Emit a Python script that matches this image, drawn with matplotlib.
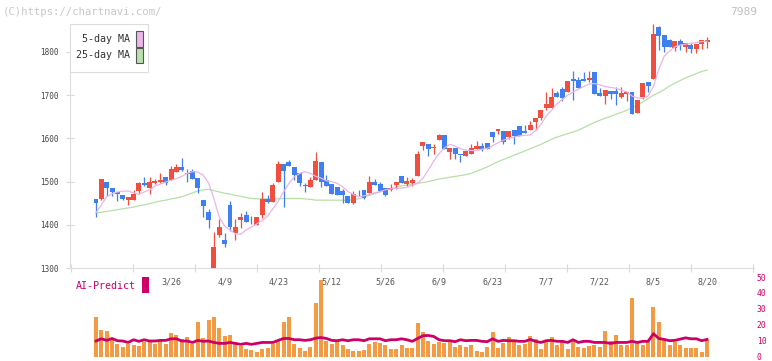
import numpy as np
import matplotlib.pyplot as plt
from matplotlib.patches import Rectangle

plt.rcParams['font.family'] = ['DejaVu Sans Mono']

# daily OHLC (115 trading days, last one = 8/20)
opens = [1460, 1459, 1499, 1485, 1476, 1469, 1458, 1458, 1479, 1497,
         1486, 1497, 1498, 1511, 1504, 1522, 1534, 1518, 1525, 1508,
         1457, 1430, 1290, 1377, 1365, 1446, 1382, 1412, 1423, 1411,
         1400, 1423, 1460, 1453, 1499, 1541, 1545, 1534, 1520, 1490,
         1488, 1504, 1545, 1504, 1494, 1488, 1478, 1467, 1451, 1477,
         1481, 1474, 1499, 1494, 1485, 1481, 1492, 1513, 1494, 1497,
         1514, 1582, 1587, 1577, 1596, 1608, 1569, 1578, 1562, 1559,
         1564, 1576, 1582, 1589, 1615, 1617, 1617, 1603, 1619, 1629,
         1617, 1619, 1638, 1647, 1670, 1670, 1705, 1714, 1707, 1738,
         1735, 1738, 1735, 1754, 1705, 1698, 1710, 1710, 1696, 1703,
         1707, 1659, 1696, 1731, 1738, 1858, 1839, 1828, 1809, 1826,
         1812, 1816, 1807, 1819, 1823]
highs = [1460, 1506, 1499, 1485, 1476, 1469, 1464, 1481, 1500, 1511,
         1511, 1506, 1521, 1511, 1535, 1541, 1555, 1529, 1529, 1508,
         1457, 1437, 1383, 1413, 1381, 1455, 1413, 1427, 1432, 1420,
         1418, 1476, 1469, 1496, 1547, 1541, 1550, 1534, 1520, 1497,
         1511, 1569, 1545, 1515, 1494, 1488, 1483, 1467, 1478, 1481,
         1481, 1513, 1506, 1499, 1485, 1494, 1499, 1513, 1511, 1508,
         1571, 1592, 1587, 1587, 1610, 1608, 1578, 1578, 1562, 1571,
         1587, 1594, 1589, 1589, 1615, 1622, 1617, 1617, 1619, 1629,
         1631, 1640, 1647, 1666, 1708, 1717, 1710, 1719, 1733, 1756,
         1742, 1754, 1756, 1754, 1717, 1712, 1710, 1719, 1719, 1707,
         1707, 1689, 1728, 1731, 1865, 1860, 1839, 1830, 1826, 1830,
         1821, 1821, 1819, 1828, 1835]
lows = [1419, 1458, 1467, 1467, 1455, 1457, 1446, 1458, 1471, 1490,
        1471, 1495, 1497, 1493, 1504, 1522, 1525, 1499, 1507, 1474,
        1419, 1393, 1285, 1372, 1349, 1386, 1365, 1393, 1407, 1402,
        1400, 1416, 1450, 1453, 1499, 1442, 1537, 1504, 1490, 1477,
        1488, 1504, 1488, 1490, 1471, 1469, 1450, 1451, 1448, 1467,
        1460, 1474, 1492, 1478, 1467, 1478, 1483, 1497, 1490, 1490,
        1514, 1572, 1559, 1564, 1596, 1576, 1552, 1552, 1545, 1559,
        1564, 1576, 1571, 1576, 1592, 1610, 1587, 1599, 1587, 1606,
        1613, 1619, 1619, 1643, 1666, 1670, 1696, 1687, 1707, 1689,
        1717, 1733, 1731, 1703, 1698, 1680, 1691, 1677, 1694, 1687,
        1657, 1659, 1691, 1707, 1738, 1805, 1800, 1812, 1802, 1805,
        1800, 1798, 1798, 1807, 1809]
closes = [1451, 1506, 1486, 1477, 1472, 1460, 1464, 1471, 1497, 1491,
          1499, 1501, 1504, 1497, 1529, 1534, 1527, 1517, 1507, 1486,
          1444, 1410, 1349, 1395, 1356, 1396, 1394, 1418, 1407, 1410,
          1418, 1460, 1453, 1492, 1541, 1525, 1537, 1515, 1497, 1489,
          1504, 1548, 1499, 1490, 1471, 1469, 1469, 1451, 1471, 1475,
          1462, 1499, 1492, 1478, 1469, 1485, 1499, 1497, 1501, 1504,
          1564, 1592, 1576, 1581, 1608, 1576, 1578, 1564, 1561, 1571,
          1578, 1582, 1576, 1576, 1603, 1622, 1592, 1617, 1606, 1606,
          1613, 1631, 1647, 1666, 1680, 1696, 1696, 1694, 1733, 1733,
          1717, 1733, 1740, 1703, 1698, 1712, 1703, 1703, 1705, 1707,
          1657, 1689, 1728, 1721, 1842, 1837, 1812, 1812, 1826, 1816,
          1821, 1807, 1819, 1828, 1828]

ma5 = [1428, 1446, 1465, 1472, 1476, 1478, 1478, 1474, 1471, 1476,
       1481, 1490, 1494, 1499, 1503, 1507, 1512, 1519, 1523, 1522,
       1515, 1497, 1460, 1418, 1397, 1388, 1379, 1378, 1388, 1395,
       1402, 1410, 1420, 1437, 1455, 1476, 1496, 1511, 1519, 1523,
       1519, 1512, 1508, 1502, 1500, 1496, 1488, 1477, 1470, 1465,
       1467, 1470, 1474, 1477, 1481, 1483, 1484, 1485, 1487, 1492,
       1496, 1508, 1527, 1547, 1565, 1578, 1586, 1582, 1576, 1573,
       1572, 1572, 1575, 1577, 1583, 1590, 1596, 1600, 1603, 1606,
       1607, 1608, 1618, 1632, 1652, 1665, 1680, 1690, 1700, 1707,
       1714, 1720, 1726, 1727, 1724, 1720, 1718, 1716, 1712, 1708,
       1698, 1694, 1693, 1698, 1720, 1760, 1790, 1802, 1812, 1816,
       1818, 1820, 1822, 1824, 1825]
ma25 = [1428, 1429, 1431, 1433, 1435, 1437, 1439, 1441, 1444, 1446,
        1449, 1452, 1455, 1457, 1460, 1462, 1465, 1469, 1474, 1478,
        1481, 1482, 1479, 1476, 1473, 1471, 1468, 1466, 1463, 1461,
        1460, 1460, 1460, 1460, 1460, 1461, 1461, 1461, 1461, 1460,
        1459, 1457, 1457, 1457, 1457, 1457, 1457, 1457, 1458, 1460,
        1464, 1468, 1472, 1476, 1480, 1484, 1487, 1490, 1492, 1494,
        1496, 1498, 1500, 1503, 1506, 1508, 1510, 1512, 1514, 1516,
        1519, 1524, 1529, 1534, 1540, 1546, 1551, 1556, 1561, 1566,
        1571, 1576, 1581, 1586, 1592, 1598, 1603, 1607, 1611, 1615,
        1619, 1625, 1631, 1637, 1642, 1647, 1651, 1656, 1660, 1665,
        1671, 1677, 1684, 1692, 1700, 1706, 1713, 1721, 1728, 1734,
        1740, 1745, 1750, 1755, 1758]

volume = [24.8, 17.0, 15.8, 11.4, 7.7, 5.8, 7.7, 7.1, 6.4, 8.9,
          9.6, 7.7, 9.6, 7.7, 14.6, 13.3, 10.8, 12.1, 7.7, 22.0,
          11.4, 23.3, 25.2, 18.3, 12.7, 13.3, 8.9, 6.4, 4.6, 3.9,
          2.7, 4.6, 5.2, 7.7, 10.2, 22.0, 25.2, 7.7, 5.2, 3.3,
          5.8, 33.9, 48.3, 9.6, 7.7, 8.9, 7.1, 4.6, 3.3, 3.3,
          3.9, 7.7, 8.9, 8.3, 7.1, 4.6, 4.6, 7.1, 5.2, 5.2,
          21.4, 15.2, 9.6, 7.7, 8.9, 8.3, 9.6, 5.8, 7.1, 5.8,
          7.1, 3.3, 2.7, 5.8, 15.2, 5.2, 8.3, 12.1, 9.6, 7.1,
          7.7, 12.7, 10.8, 4.6, 8.9, 12.1, 7.1, 8.9, 4.6, 10.4,
          5.8, 5.2, 6.4, 7.1, 5.8, 16.4, 9.6, 13.3, 7.1, 7.1,
          37.0, 9.6, 7.1, 10.2, 31.4, 21.6, 10.2, 7.1, 8.9, 7.1,
          5.2, 5.2, 5.2, 2.7, 10.2]
ai_predict = [9.8, 11.2, 10.2, 11.4, 10.0, 9.8, 8.9, 10.6, 9.6, 10.6,
              9.8, 9.8, 10.2, 10.2, 11.2, 11.2, 9.8, 9.8, 8.9, 10.2,
              9.6, 9.8, 8.9, 8.3, 8.3, 8.9, 8.3, 7.7, 8.3, 7.7,
              8.3, 8.9, 8.9, 8.9, 10.2, 11.4, 11.4, 10.6, 10.6, 10.2,
              10.6, 11.6, 12.0, 11.4, 10.2, 10.0, 10.6, 10.0, 10.6, 10.6,
              10.0, 11.2, 11.2, 11.2, 10.0, 10.6, 10.6, 11.2, 10.6, 9.6,
              11.4, 13.1, 13.3, 12.7, 10.6, 10.0, 10.0, 9.4, 10.6, 10.0,
              10.2, 10.2, 9.6, 9.4, 11.2, 9.6, 10.2, 10.0, 10.0, 9.6,
              9.6, 10.8, 9.6, 8.9, 10.0, 10.2, 9.6, 9.6, 8.9, 10.6,
              8.9, 9.6, 9.6, 8.9, 8.9, 8.9, 8.3, 8.9, 8.9, 8.9,
              9.6, 8.9, 9.6, 9.6, 14.4, 11.4, 10.8, 10.0, 10.2, 11.0,
              11.8, 11.2, 11.2, 10.0, 10.8]

date_labels = ['3/26', '4/9', '4/23', '5/12', '5/26', '6/9', '6/23', '7/7', '7/22', '8/5', '8/20']
date_index = [14, 24, 34, 44, 54, 64, 74, 84, 94, 104, 114]

UP = '#f04e3e'
DOWN = '#3f7ff0'
CRIMSON = '#cc0066'
W, H = 772, 361

def fx(px):
    return px / W

def fy(py):
    return 1 - py / H

fig = plt.figure(figsize=(W / 100, H / 100), dpi=100)

# pixel geometry: candle i sits at x = 96 + 5.36 * i
x0, x1 = 70, 754
xlim = ((x0 - 96) / 5.36, (x1 - 96) / 5.36)

ax = fig.add_axes([fx(x0), fy(268), fx(x1) - fx(x0), (268 - 24) / H])
ax2 = fig.add_axes([fx(x0), fy(356.6), fx(x1) - fx(x0), 79.5 / H])

x = np.arange(len(closes))
o = np.array(opens, float)
c = np.array(closes, float)
up = c >= o
colors = np.where(up, UP, DOWN)

ax.vlines(x, lows, highs, colors=colors, linewidth=0.9, zorder=2)
body = np.maximum(np.abs(c - o), 2.0)
ax.bar(x, body, bottom=np.minimum(o, c), width=0.93, color=colors, linewidth=0, zorder=3)
ax.plot(x, ma5, color='#e9b4ea', lw=0.9, zorder=4)
ax.plot(x, ma25, color='#b7dfa8', lw=0.9, zorder=1)

ax.set_xlim(*xlim)
ax.set_ylim(1300, 1864.8)
ax.set_yticks(range(1300, 1900, 100))
ax.set_xticks([(71 + 62 * k - 96) / 5.36 for k in range(12)])
ax.set_xticklabels([])
ax.tick_params(axis='both', direction='inout', length=6, width=0.8, color='#d8d8d8')
ax.tick_params(axis='y', labelsize=5.5, labelcolor='#444444', pad=5)
for s in ['top', 'right']:
    ax.spines[s].set_visible(False)
for s in ['left', 'bottom']:
    ax.spines[s].set_color('#dddddd')
    ax.spines[s].set_linewidth(0.8)

# lower panel
ax2.bar(x, volume, width=0.75, color='#f39a45', linewidth=0, zorder=2)
ax2.plot(x, ai_predict, color=CRIMSON, lw=2.0, zorder=3)
ax2.set_xlim(*xlim)
ax2.set_ylim(0, 50)
ax2.set_xticks([])
ax2.yaxis.tick_right()
ax2.set_yticks(range(0, 60, 10))
ax2.tick_params(axis='y', length=0, pad=2, labelsize=5.8, labelcolor=CRIMSON)
for s in ax2.spines.values():
    s.set_visible(False)
ax2.patch.set_alpha(0)
for lab, i in zip(date_labels, date_index):
    ax2.text(i, 47, lab, ha='center', va='center', fontsize=6, color='#555555', zorder=1)

# legend box
fig.add_artist(Rectangle((fx(70), fy(71.7)), fx(148.3) - fx(70), (71.7 - 24) / H,
                         transform=fig.transFigure, facecolor='white', edgecolor='#dddddd', lw=0.8, zorder=5))
fig.add_artist(Rectangle((fx(136), fy(46.7)), fx(142.7) - fx(136), 15.7 / H,
                         transform=fig.transFigure, facecolor='#ebb6eb', edgecolor='#555555', lw=0.8, zorder=6))
fig.add_artist(Rectangle((fx(136), fy(63.3)), fx(142.7) - fx(136), 15.3 / H,
                         transform=fig.transFigure, facecolor='#b9e0ad', edgecolor='#555555', lw=0.8, zorder=6))
fig.text(fx(130), fy(38.5), '5-day MA', ha='right', va='center', fontsize=7.2, color='#333333', zorder=7)
fig.text(fx(130), fy(55.5), '25-day MA', ha='right', va='center', fontsize=7.2, color='#333333', zorder=7)

# AI-Predict label
fig.text(fx(76), fy(285.7), 'AI-Predict', ha='left', va='center', fontsize=7.2, color=CRIMSON)
fig.add_artist(Rectangle((fx(142), fy(293)), fx(149) - fx(142), 16 / H,
                         transform=fig.transFigure, facecolor=CRIMSON, edgecolor='none', zorder=5))

# watermark & code
fig.text(fx(3), fy(12), '(C)https://chartnavi.com/', ha='left', va='center', fontsize=7.7, color='#c8c8c8')
fig.text(fx(757), fy(12), '7989', ha='right', va='center', fontsize=8, color='#c0c0c0')

fig.savefig('out.png', dpi=100)
